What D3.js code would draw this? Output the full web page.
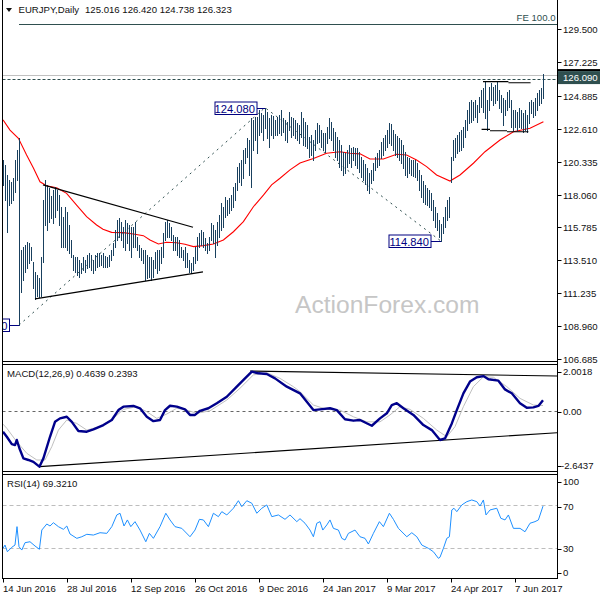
<!DOCTYPE html>
<html><head><meta charset="utf-8">
<script src="https://cdn.jsdelivr.net/npm/d3@7"></script>
<style>body{margin:0;background:#fff}svg{display:block}text{font-family:"Liberation Sans",Arial,sans-serif}</style>
</head><body><svg id="c" width="600" height="600"></svg>
<script>
// ---------------- DATA ----------------
const symbolName = "EURJPY,Daily";
const lastOHLC = ["125.016","126.420","124.738","126.323"];
const dateLabels = ["14 Jun 2016","28 Jul 2016","12 Sep 2016","26 Oct 2016","9 Dec 2016","24 Jan 2017","9 Mar 2017","24 Apr 2017","7 Jun 2017"];
const dateIdx = [0,32,64,96,128,160,192,224,256];
const priceTicks = [129.5,127.225,124.885,122.61,120.335,118.06,115.785,113.51,111.235,108.96,106.685];

const highs = [
120.46,120.11,119.42,119.07,118.93,119.21,120.46,121.15,121.98,114.23,
114.44,114.57,114.78,114.71,114.44,113.40,112.71,112.50,112.29,113.75,
117.69,119.07,118.73,118.52,117.97,118.38,118.59,118.38,118.03,117.20,
116.52,117.20,116.86,115.96,114.92,113.88,113.75,113.75,113.54,113.33,
113.75,113.54,113.88,114.02,113.88,113.54,113.88,114.02,114.02,113.88,
114.02,113.82,113.75,113.88,114.23,114.71,115.61,116.31,116.45,116.17,
115.82,116.31,116.10,115.96,115.82,115.82,116.17,115.13,114.57,114.37,
114.23,114.23,113.88,113.75,113.75,113.54,114.09,114.23,114.23,114.44,
115.40,116.17,116.31,116.10,115.82,115.27,115.13,115.13,114.92,114.44,
114.23,114.44,114.02,113.54,113.33,113.75,114.44,115.13,115.40,115.61,
115.47,115.06,114.71,115.13,116.10,115.96,115.61,116.17,116.65,117.48,
117.20,117.90,117.69,117.83,118.03,118.59,118.86,119.97,120.25,120.46,
121.15,121.29,121.98,121.84,123.36,123.23,123.43,123.43,123.92,123.71,
123.57,124.08,123.78,123.36,123.57,123.50,123.23,123.43,123.57,123.92,
123.36,123.23,123.09,123.78,123.43,123.36,123.23,123.02,122.88,123.78,
123.36,123.09,122.88,122.05,122.19,121.84,122.53,123.02,122.88,122.53,
122.33,122.33,122.74,123.36,123.09,122.67,122.40,122.05,121.84,121.49,
121.01,120.94,121.15,121.49,121.29,121.36,121.29,121.29,121.01,120.67,
120.46,120.18,119.90,119.56,119.77,120.25,120.67,120.94,121.15,121.70,
121.98,122.19,122.53,123.02,122.95,122.53,122.26,122.12,121.98,121.84,
121.49,121.01,120.67,120.60,120.46,120.46,120.46,120.25,119.77,119.42,
119.00,118.73,118.52,118.38,118.17,117.69,117.20,116.79,116.31,116.03,
116.52,117.20,117.69,117.90,120.67,121.84,121.98,122.19,122.40,122.53,
122.74,123.23,123.92,124.47,124.61,124.47,124.61,124.26,124.82,125.30,
125.44,125.86,124.61,125.51,125.79,125.51,125.65,125.86,125.30,124.95,
124.75,124.61,125.16,125.30,124.61,123.92,123.92,123.78,124.06,123.92,
123.71,123.92,123.57,124.47,124.61,124.47,124.75,125.09,125.30,125.44,
126.42];
const lows = [
118.73,117.69,115.47,117.34,117.48,117.69,118.24,119.07,109.03,111.32,
112.15,112.71,112.99,113.33,113.54,111.60,110.84,111.04,110.98,111.04,
113.40,115.96,115.61,116.17,116.45,116.10,116.52,117.00,115.96,114.44,
114.44,114.44,114.23,114.02,113.75,112.85,112.71,112.50,112.36,112.64,
112.85,112.71,112.99,113.06,112.85,112.64,112.85,113.06,113.13,113.19,
113.06,113.06,113.06,113.13,113.54,113.88,114.44,114.92,115.13,114.92,
114.44,114.23,114.71,114.23,113.75,114.44,114.44,114.23,113.75,113.54,
113.33,112.15,112.29,112.36,112.15,112.36,112.99,112.64,112.85,113.33,
113.75,114.92,115.13,115.13,114.92,114.23,114.23,113.88,113.75,113.75,
113.54,113.06,113.06,112.71,112.64,112.85,113.33,113.54,114.44,114.57,
114.44,114.23,114.02,114.23,114.92,114.71,113.75,114.57,115.13,115.61,
115.82,116.52,116.65,116.79,117.00,117.20,117.69,118.38,118.93,118.73,
119.21,120.25,120.67,119.42,118.59,121.15,121.84,120.94,122.19,122.40,
121.84,122.67,121.98,121.36,122.19,121.98,122.19,122.19,122.33,122.19,
122.40,121.84,121.70,122.53,122.05,122.19,121.98,121.84,121.63,122.05,
121.49,121.43,121.29,120.67,120.80,120.46,121.15,121.63,121.70,121.36,
121.15,121.01,121.63,121.98,121.84,121.15,120.67,120.46,119.97,119.77,
119.42,119.56,119.97,120.25,119.97,120.46,120.11,119.90,119.63,119.28,
119.07,118.80,118.38,118.17,118.86,119.07,119.77,119.97,120.11,120.60,
120.80,121.15,121.36,121.63,121.49,121.15,120.80,120.67,120.46,120.25,
119.90,119.42,119.28,119.56,119.42,119.35,119.28,119.07,118.38,117.90,
117.55,117.41,117.34,117.20,117.00,116.31,115.82,115.61,115.13,114.84,
115.40,115.82,116.31,116.52,118.93,120.46,120.67,120.94,121.08,121.15,
121.36,122.05,122.53,123.02,123.09,123.23,123.43,123.09,123.78,124.13,
123.78,123.36,122.53,123.92,124.61,124.26,124.40,124.61,124.06,123.78,
122.88,123.57,123.92,124.13,122.74,122.53,122.74,122.53,122.74,122.67,
122.40,122.53,122.40,123.02,123.71,123.43,123.57,123.92,124.26,124.40,
124.738];

// moving average (red): [bar index, value]
const maPts = [[0,123.23],[3.5,122.53],[7.7,121.96],[11.8,120.80],[15.2,119.90],[18.5,118.95],[21.8,118.67],[26.8,118.53],[31.8,118.15],[36.8,117.34],[41.8,116.53],[46.8,115.96],[50,115.66],[54.3,115.45],[60.2,115.43],[65.2,115.34],[70.2,115.22],[73.5,114.92],[77.7,114.64],[81.8,114.76],[86.8,114.73],[91,114.62],[95.2,114.46],[100.2,114.53],[105.2,114.64],[110.2,114.92],[115.2,115.49],[120.2,116.19],[125.2,117.22],[130.2,118.03],[134.3,118.73],[138.5,119.19],[143.5,119.77],[148.5,120.25],[155.2,120.56],[161.8,120.92],[168.5,121.03],[173.5,120.92],[178.5,120.88],[183.5,120.53],[190.2,120.53],[196.8,120.85],[201.8,120.80],[206.8,120.46],[211.8,120.00],[216.8,119.42],[223.5,119.00],[228.5,119.42],[235.2,120.23],[241,121.03],[248.5,121.84],[255.2,122.41],[263.5,122.65],[270.2,123.11]];

// MACD main & signal: [bar index, value]
const macdPts = [[0,-0.90],[1.9,-1.12],[4.4,-1.44],[6,-1.48],[6.9,-1.26],[8.2,-1.62],[10.2,-2.06],[12.7,-2.13],[15.2,-2.21],[18.2,-2.42],[20.2,-2.06],[23.5,-1.12],[26,-0.47],[28.5,-0.32],[31.9,-0.25],[34.4,-0.47],[37.7,-0.87],[41.9,-0.90],[45.2,-0.80],[50.2,-0.61],[54.4,-0.39],[57.7,0.04],[60.2,0.19],[65.2,0.22],[68.5,0.12],[71.9,-0.25],[75.2,-0.44],[78.5,-0.39],[81,0.04],[83.5,0.23],[86.9,0.19],[91,0.07],[93.5,-0.17],[96,-0.17],[98.5,0.01],[102.7,0.12],[106.9,0.34],[111.9,0.62],[116.9,1.06],[121,1.42],[124.4,1.71],[127.7,1.64],[131.9,1.61],[136,1.42],[141.9,1.06],[148.5,0.77],[151.9,0.40],[155.2,0.04],[158.5,0.07],[163.5,0.12],[166.9,0.04],[171,-0.36],[175.2,-0.42],[178.5,-0.39],[184.4,-0.64],[188.5,-0.32],[191.9,-0.10],[194.4,0.26],[196.9,0.34],[200.2,0.12],[205.2,-0.17],[210.2,-0.61],[214.4,-0.83],[218.5,-1.26],[221,-1.19],[224.4,-0.54],[226.9,0.04],[230.2,0.77],[233.5,1.28],[236.9,1.47],[240.2,1.52],[242.7,1.38],[247.7,1.32],[251,0.94],[254.4,0.77],[258.5,0.34],[261.9,0.14],[265.2,0.16],[267.7,0.22],[270,0.4639]];
const signalPts = [[0,-0.57],[1.9,-0.75],[6.9,-1.34],[11.9,-1.84],[16.9,-2.13],[21,-2.13],[24.4,-1.55],[27.7,-0.83],[31.9,-0.39],[36.9,-0.54],[41.9,-0.83],[48.5,-0.68],[55.2,-0.32],[60.2,0.07],[66.9,0.19],[71.9,-0.03],[76.9,-0.32],[81.9,-0.13],[86.9,0.12],[91.9,0.04],[96.9,-0.10],[103.5,0.01],[111.9,0.48],[118.5,0.99],[125.2,1.57],[131.9,1.67],[138.5,1.42],[145.2,1.06],[148.5,0.84],[155.2,0.26],[161.9,0.07],[168.5,0.04],[175.2,-0.25],[181.9,-0.47],[188.5,-0.47],[193.5,-0.17],[198.5,0.19],[203.5,0.07],[210.2,-0.32],[216.9,-0.83],[221.9,-1.12],[226,-0.68],[230.2,0.19],[235.2,1.06],[240.2,1.49],[245.2,1.47],[251.9,1.06],[258.5,0.55],[265.2,0.26],[270,0.2393]];
const macdScale = [-2.6437, 2.0018];
const macdLabels = ["2.0018","0.00","-2.6437"];

// RSI(14): [bar index, value]
const rsiPts = [[0,29.6],[1,32.7],[2.2,26.4],[4.4,30.6],[6,32.7],[7,50.0],[8,31.1],[9.4,28.0],[11,34.9],[13.5,35.8],[16,31.8],[18.2,28.7],[19.4,46.8],[21.9,52.5],[23.5,50.6],[25.2,53.7],[27.7,50.0],[30.2,47.5],[31.9,50.6],[33.5,43.1],[36.9,39.0],[39.4,40.5],[41.9,42.8],[45.2,42.1],[48.5,44.3],[51.9,43.7],[54.4,50.0],[56.9,61.0],[58.5,62.6],[60.5,50.6],[62.2,56.3],[63.9,50.0],[66,54.7],[68.5,46.8],[71.4,35.8],[73.2,43.7],[75.2,39.0],[78.5,50.0],[81.4,62.6],[83.5,56.3],[86,50.0],[89.4,48.4],[93.5,40.5],[96,46.8],[98.2,56.9],[100.2,56.3],[102.7,50.0],[105.2,62.6],[107.7,59.4],[109.4,64.1],[111.9,61.0],[115.2,67.3],[117.7,74.4],[119.4,68.8],[121.9,74.4],[124.4,72.0],[126.9,62.6],[129.4,67.3],[131.9,70.4],[134.4,59.4],[137.7,61.0],[141,56.9],[143.5,61.0],[146.9,54.7],[148.5,57.5],[151,53.2],[153.5,46.8],[155.2,40.5],[156.9,53.2],[158.5,54.7],[159.9,46.8],[161.9,51.6],[163.5,56.3],[165.2,48.4],[167.7,46.8],[169.4,39.0],[171,37.4],[172.7,43.7],[176,46.8],[178.5,40.5],[181,39.0],[182.7,33.7],[185.2,43.7],[188.2,54.7],[190.2,50.0],[193.2,62.6],[195.2,56.9],[197.7,48.4],[201.9,40.5],[204.4,44.3],[206.9,40.5],[209.4,32.7],[212.7,29.6],[215.2,26.4],[217.7,20.2],[218.5,21.2],[220.2,29.6],[221.9,39.0],[223.2,40.5],[224.4,65.7],[225.5,67.3],[226.9,64.1],[229.4,70.4],[231.9,73.5],[234.4,75.1],[236.9,73.5],[238.5,69.4],[240.2,75.1],[241.5,61.0],[243.5,65.7],[246.9,67.3],[248.9,57.9],[251,56.3],[252.7,61.0],[255.2,48.4],[258.5,48.4],[261,45.2],[263.5,53.2],[266,54.7],[267.7,56.3],[270,69.321]];
const rsiLevels = [70, 30];
const rsiLabels = [100, 70, 30, 0];

// drawn objects: trend lines [[idx, value],[idx, value]]
const triUpper = [[20,118.73],[95,115.80]];
const triLower = [[16,110.84],[100,112.72]];
const fibLegs = [[8,109.03],[131,124.08],[219,114.84]];
const feLevel = 129.89;
const hLevel = 126.09;
const bidPrice = 126.323;
const rectTop = [[[240,125.88],[252.7,125.88]],[[252.7,125.80],[263.8,125.80]]];
const rectBottom = [[[239.3,122.58],[243.5,122.58]],[[243.5,122.48],[252,122.48]],[[252,122.41],[262.7,122.41]]];
// price labels; the left one is mostly off the chart edge, only its last "0" is visible
const pivotLabels = [{idx:131, v:124.08, t:"124.080", gap:8, w:42}, {idx:219, v:114.84, t:"114.840", gap:10, w:42}, {idx:8, v:109.03, t:"0", gap:9.5, w:42}];
const macdTrend = [[[18.2,-2.42],[277.5,-0.94]], [[123.5,1.74],[277.5,1.52]]];

// ---------------- DRAW ----------------
const svg = d3.select("#c");
const L = 2.5, R = 557.5;
const main = {t:0, b:361.5}, mp = {t:364.5, b:471.5}, rp = {t:474.5, b:578.5};
const x = d3.scaleLinear().domain([0,270]).range([3,543]);
const yP = d3.scaleLinear().domain([106.685,129.5]).range([359,29.3]);
const yM = d3.scaleLinear().domain(macdScale).range([471.8,365]);
const yR = d3.scaleLinear().domain([0,100]).range([579.8,473.5]);
const TXT = "#111", SLATE = "#2f4f4f", BAR = "#19405e", NAVY = "#000080";

const defs = svg.append("defs");
[["cm",main],["cmacd",mp],["crsi",rp]].forEach(([id,p])=>{
  defs.append("clipPath").attr("id",id).append("rect").attr("x",L+0.5).attr("y",p.t+0.5).attr("width",R-L-1).attr("height",p.b-p.t-1);
});
const gM = svg.append("g").attr("clip-path","url(#cm)");
const gMacd = svg.append("g").attr("clip-path","url(#cmacd)");
const gR = svg.append("g").attr("clip-path","url(#crsi)");

// watermark
gM.append("text").attr("x",295).attr("y",312.5).attr("font-size",24.6).attr("fill","#c6c6c6").text("ActionForex.com");

// FE line + label
gM.append("line").attr("x1",x(fibLegs[0][0])).attr("x2",R).attr("y1",Math.round(yP(feLevel))+0.5).attr("y2",Math.round(yP(feLevel))+0.5).attr("stroke",SLATE);
svg.append("text").attr("x",555.5).attr("y",20.7).attr("text-anchor","end").attr("font-size",9.6).attr("fill",SLATE).text("FE 100.0");
// bid line
gM.append("line").attr("x1",L).attr("x2",R).attr("y1",Math.round(yP(bidPrice))+0.5).attr("y2",Math.round(yP(bidPrice))+0.5).attr("stroke","#c0c0c0");
// horizontal dashed level
gM.append("line").attr("x1",L).attr("x2",R).attr("y1",Math.round(yP(hLevel))+0.5).attr("y2",Math.round(yP(hLevel))+0.5).attr("stroke",SLATE).attr("stroke-dasharray","3,2");

// fib dotted legs
const lineP = d3.line().x(d=>x(d[0])).y(d=>yP(d[1]));
gM.append("path").attr("d",lineP(fibLegs)).attr("fill","none").attr("stroke",SLATE).attr("stroke-dasharray","2,4");

// MA
gM.append("path").attr("d",lineP(maPts)).attr("fill","none").attr("stroke","#ff0000").attr("stroke-width",1.1);

// bars
gM.append("g").attr("shape-rendering","crispEdges").selectAll("line").data(highs).join("line")
  .attr("x1",(d,i)=>x(i)+0.5).attr("x2",(d,i)=>x(i)+0.5)
  .attr("y1",d=>Math.round(yP(d))).attr("y2",(d,i)=>Math.round(yP(lows[i]))+1)
  .attr("stroke",BAR).attr("stroke-width",1);

// trend lines
[triUpper, triLower].forEach(t=>gM.append("path").attr("d",lineP(t)).attr("fill","none").attr("stroke","#000").attr("stroke-width",1.2));
rectTop.concat(rectBottom).forEach(t=>gM.append("path").attr("d",lineP(t)).attr("fill","none").attr("stroke","#000").attr("stroke-width",1.2));

// pivot labels
pivotLabels.forEach(p=>{
  const bx = x(p.idx), by = Math.round(yP(p.v))+0.5;
  const right = bx - p.gap, w = p.w;
  gM.append("line").attr("x1",right).attr("x2",bx).attr("y1",by).attr("y2",by).attr("stroke",NAVY);
  gM.append("rect").attr("x",right-w).attr("y",by-6.5).attr("width",w).attr("height",12.5).attr("fill","#fff").attr("stroke",NAVY);
  gM.append("text").attr("x",right-2).attr("y",by+4.4).attr("text-anchor","end").attr("font-size",11.2).attr("fill",NAVY).text(p.t);
});

// frames
const fr = svg.append("g").attr("stroke","#000").attr("shape-rendering","crispEdges");
fr.append("line").attr("x1",R).attr("x2",R).attr("y1",0).attr("y2",rp.b);
fr.append("line").attr("x1",L).attr("x2",L).attr("y1",0).attr("y2",rp.b);
[main.b, mp.t, mp.b, rp.t, rp.b].forEach(y=>fr.append("line").attr("x1",L).attr("x2",R).attr("y1",y).attr("y2",y));

// title
svg.append("path").attr("d","M6,8 L12,8 L9,12 Z").attr("fill","#111");
svg.append("text").attr("x",18.5).attr("y",13.4).attr("font-size",9.6).attr("fill",TXT).text(symbolName);
svg.append("text").attr("x",85).attr("y",13.4).attr("font-size",9.6).attr("fill",TXT).text(lastOHLC.join(" "));

// price axis
const pa = svg.append("g");
priceTicks.forEach(t=>{
  const y = Math.round(yP(t))+0.5;
  pa.append("line").attr("x1",R).attr("x2",R+4).attr("y1",y).attr("y2",y).attr("stroke","#000");
  pa.append("text").attr("x",563).attr("y",y+3.3).attr("font-size",9.6).attr("fill",TXT).text(d3.format(".3f")(t));
});
// current level box
const hy = yP(hLevel);
svg.append("rect").attr("x",558).attr("y",hy-9.5).attr("width",42).attr("height",2).attr("fill","#000");
svg.append("rect").attr("x",558).attr("y",hy-7.5).attr("width",42).attr("height",13).attr("fill",SLATE);
svg.append("text").attr("x",563).attr("y",hy+2.8).attr("font-size",9.6).attr("fill","#fff").text(d3.format(".3f")(hLevel));

// ---- MACD panel ----
gMacd.append("line").attr("x1",L).attr("x2",R).attr("y1",Math.round(yM(0))+0.5).attr("y2",Math.round(yM(0))+0.5).attr("stroke","#666").attr("stroke-dasharray","3,3");
const lineM = d3.line().x(d=>x(d[0])).y(d=>yM(d[1]));
macdTrend.forEach(t=>gMacd.append("path").attr("d",lineM(t)).attr("fill","none").attr("stroke","#000").attr("stroke-width",1.1));
gMacd.append("path").attr("d",lineM(signalPts)).attr("fill","none").attr("stroke","#c0c0c0").attr("stroke-width",1);
gMacd.append("path").attr("d",lineM(macdPts)).attr("fill","none").attr("stroke","#00008b").attr("stroke-width",2.4).attr("stroke-linejoin","round");
svg.append("text").attr("x",7).attr("y",377).attr("font-size",9.6).attr("fill",TXT)
  .text(`MACD(12,26,9) ${macdPts[macdPts.length-1][1].toFixed(4)} ${signalPts[signalPts.length-1][1].toFixed(4)}`);
const mLabY = [yM(macdScale[1])+6.7, yM(0)+0.5, yM(macdScale[0])-5.8];
macdLabels.forEach((t,i)=>{
  pa.append("line").attr("x1",R).attr("x2",R+4).attr("y1",Math.round(mLabY[i])+0.5).attr("y2",Math.round(mLabY[i])+0.5).attr("stroke","#000");
  pa.append("text").attr("x",i==2?561:563).attr("y",mLabY[i]+3.3).attr("font-size",9.6).attr("fill",TXT).text(t);
});

// ---- RSI panel ----
rsiLevels.forEach(v=>gR.append("line").attr("x1",L).attr("x2",R).attr("y1",Math.round(yR(v))+0.5).attr("y2",Math.round(yR(v))+0.5).attr("stroke","#bdbdbd").attr("stroke-dasharray","4,3"));
const lineR = d3.line().x(d=>x(d[0])).y(d=>yR(d[1]));
gR.append("path").attr("d",lineR(rsiPts)).attr("fill","none").attr("stroke","#1e90ff").attr("stroke-width",1);
svg.append("text").attr("x",7).attr("y",487).attr("font-size",9.6).attr("fill",TXT).text(`RSI(14) ${rsiPts[rsiPts.length-1][1].toFixed(4)}`);
const rOff = {100:8.2, 70:1.3, 30:1.1, 0:-7.1};
rsiLabels.forEach(v=>{
  const y = yR(v)+rOff[v];
  pa.append("line").attr("x1",R).attr("x2",R+4).attr("y1",Math.round(y)+0.5).attr("y2",Math.round(y)+0.5).attr("stroke","#000");
  pa.append("text").attr("x",563).attr("y",y+3.3).attr("font-size",9.6).attr("fill",TXT).text(v);
});

// ---- time axis ----
dateIdx.forEach((d,i)=>{
  const xx = x(d)+0.5;
  svg.append("line").attr("x1",xx).attr("x2",xx).attr("y1",rp.b).attr("y2",rp.b+4).attr("stroke","#000");
  svg.append("text").attr("x",x(d)).attr("y",591.8).attr("font-size",9.6).attr("fill",TXT).text(dateLabels[i]);
});
</script></body></html>
